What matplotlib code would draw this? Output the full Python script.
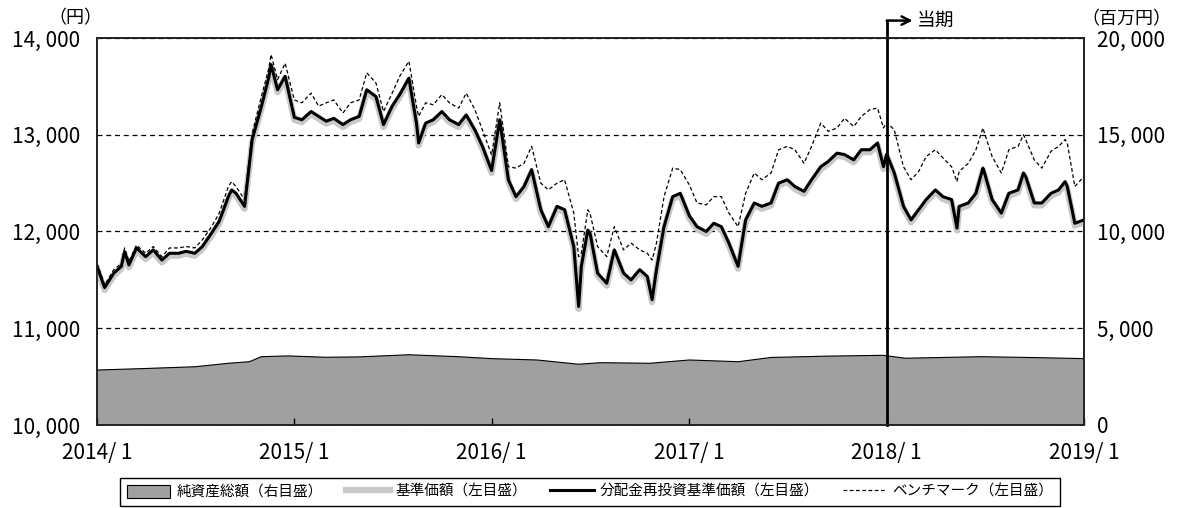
import matplotlib
matplotlib.use('Agg')
import matplotlib.pyplot as plt
import matplotlib.dates as mdates
import pandas as pd
from matplotlib.patches import Patch
from matplotlib.lines import Line2D

plt.rcParams['font.family'] = ['Noto Sans CJK JP', 'DejaVu Sans']

# --- data ---
dates = [
    '2014-01-01', '2014-01-15', '2014-02-01', '2014-02-15', '2014-02-21', '2014-03-01', '2014-03-15',
    '2014-04-01', '2014-04-15', '2014-05-01', '2014-05-15', '2014-06-01', '2014-06-15', '2014-07-01',
    '2014-07-15', '2014-08-01', '2014-08-15', '2014-09-01', '2014-09-07', '2014-09-15', '2014-10-01',
    '2014-10-15', '2014-11-01', '2014-11-15', '2014-11-19', '2014-12-01', '2014-12-15',
    '2015-01-01', '2015-01-15', '2015-02-01', '2015-02-15', '2015-03-01', '2015-03-15', '2015-04-01',
    '2015-04-15', '2015-05-01', '2015-05-15', '2015-06-01', '2015-06-15', '2015-07-01', '2015-07-15',
    '2015-08-01', '2015-08-15', '2015-08-19', '2015-09-01', '2015-09-15', '2015-10-01', '2015-10-15',
    '2015-11-01', '2015-11-15', '2015-12-01', '2015-12-15',
    '2016-01-01', '2016-01-16', '2016-02-01', '2016-02-15', '2016-03-01', '2016-03-15', '2016-04-01',
    '2016-04-15', '2016-05-01', '2016-05-15', '2016-06-01', '2016-06-10', '2016-06-15', '2016-06-27',
    '2016-07-01', '2016-07-15', '2016-08-01', '2016-08-15', '2016-09-01', '2016-09-15', '2016-10-01',
    '2016-10-15', '2016-10-24', '2016-11-01', '2016-11-15', '2016-12-01', '2016-12-15',
    '2017-01-01', '2017-01-15', '2017-02-01', '2017-02-15', '2017-03-01', '2017-03-15', '2017-04-01',
    '2017-04-15', '2017-05-01', '2017-05-15', '2017-06-01', '2017-06-15', '2017-07-01', '2017-07-15',
    '2017-08-01', '2017-08-15', '2017-09-01', '2017-09-15', '2017-10-01', '2017-10-15', '2017-11-01',
    '2017-11-15', '2017-12-01', '2017-12-15', '2017-12-26',
    '2018-01-01', '2018-01-15', '2018-02-01', '2018-02-15', '2018-03-01', '2018-03-15', '2018-04-01',
    '2018-04-15', '2018-05-01', '2018-05-11', '2018-05-15', '2018-06-01', '2018-06-15', '2018-06-28',
    '2018-07-01', '2018-07-15', '2018-08-01', '2018-08-15', '2018-09-01', '2018-09-11', '2018-09-15',
    '2018-10-01', '2018-10-15', '2018-11-01', '2018-11-15', '2018-11-27', '2018-12-01', '2018-12-15',
    '2019-01-01',
]

# 分配金再投資基準価額
reinvest = [
    11640, 11420, 11570, 11640, 11790, 11655, 11830, 11740, 11810, 11705, 11775, 11775, 11795, 11775,
    11845, 11985, 12105, 12360, 12430, 12395, 12260, 12950, 13290, 13600, 13725, 13465, 13605,
    13180, 13155, 13240, 13190, 13140, 13170, 13105, 13155, 13190, 13465, 13395, 13105, 13295, 13415,
    13585, 13120, 12915, 13120, 13155, 13240, 13155, 13105, 13205, 13050, 12880,
    12630, 13155, 12535, 12360, 12465, 12640, 12225, 12050, 12260, 12225, 11845, 11225, 11640, 12015,
    11985, 11570, 11465, 11810, 11570, 11500, 11605, 11535, 11295, 11605, 12050, 12360, 12395,
    12160, 12050, 12000, 12085, 12050, 11880, 11640, 12120, 12295, 12260, 12295, 12500, 12535, 12465,
    12415, 12535, 12670, 12725, 12810, 12795, 12740, 12845, 12845, 12915, 12670,
    12800, 12605, 12260, 12120, 12225, 12330, 12430, 12360, 12330, 12035, 12260, 12295, 12395, 12655,
    12605, 12330, 12190, 12395, 12430, 12605, 12570, 12295, 12295, 12395, 12430, 12515, 12465, 12085,
    12120,
]

# 基準価額
nav = [
    11615, 11395, 11545, 11615, 11765, 11630, 11805, 11715, 11785, 11680, 11750, 11750, 11770, 11750,
    11820, 11960, 12080, 12335, 12405, 12370, 12235, 12925, 13265, 13575, 13700, 13440, 13580,
    13155, 13130, 13215, 13165, 13115, 13145, 13080, 13130, 13165, 13440, 13370, 13080, 13270, 13390,
    13560, 13095, 12890, 13095, 13130, 13215, 13130, 13080, 13180, 13025, 12855,
    12605, 13130, 12510, 12335, 12440, 12615, 12200, 12025, 12235, 12200, 11820, 11200, 11615, 11990,
    11960, 11545, 11440, 11785, 11545, 11475, 11580, 11510, 11270, 11580, 12025, 12335, 12370,
    12135, 12025, 11975, 12060, 12025, 11855, 11615, 12095, 12270, 12235, 12270, 12475, 12510, 12440,
    12390, 12510, 12645, 12700, 12785, 12770, 12715, 12820, 12820, 12890, 12645,
    12775, 12580, 12235, 12095, 12200, 12305, 12405, 12335, 12305, 12010, 12235, 12270, 12370, 12630,
    12580, 12305, 12165, 12370, 12405, 12580, 12545, 12270, 12270, 12370, 12405, 12490, 12440, 12060,
    12095,
]

# ベンチマーク
bench = [
    11670, 11450, 11605, 11670, 11830, 11690, 11860, 11775, 11845, 11740, 11830, 11830, 11845, 11830,
    11915, 12050, 12190, 12465, 12515, 12465, 12330, 13015, 13395, 13690, 13830, 13570, 13740,
    13360, 13330, 13430, 13295, 13330, 13360, 13225, 13330, 13360, 13640, 13535, 13240, 13430, 13605,
    13760, 13295, 13190, 13330, 13310, 13415, 13330, 13275, 13430, 13260, 13050,
    12790, 13330, 12670, 12655, 12705, 12880, 12500, 12430, 12500, 12535, 12190, 11740, 11775, 12225,
    12190, 11845, 11740, 12050, 11810, 11880, 11810, 11775, 11705, 11880, 12360, 12655, 12640,
    12480, 12295, 12275, 12360, 12360, 12190, 12050, 12395, 12605, 12535, 12605, 12845, 12880, 12845,
    12705, 12880, 13120, 13035, 13070, 13170, 13085, 13190, 13260, 13275, 13070,
    13130, 13050, 12670, 12535, 12620, 12775, 12845, 12760, 12670, 12515, 12620, 12705, 12845, 13070,
    13015, 12775, 12605, 12845, 12880, 13000, 12950, 12740, 12655, 12830, 12880, 12950, 12915, 12465,
    12570,
]

# 純資産総額 (百万円)
asset_dates = [
    '2014-01-01', '2014-04-01', '2014-07-01', '2014-09-01', '2014-10-10', '2014-11-01', '2014-12-20',
    '2015-03-01', '2015-05-01', '2015-08-01', '2015-11-01', '2016-01-01', '2016-03-25', '2016-06-10',
    '2016-07-20', '2016-10-20', '2017-01-01', '2017-04-01', '2017-06-01', '2017-09-15', '2017-12-25',
    '2018-02-05', '2018-06-25', '2018-10-10', '2019-01-01',
]
assets = [
    2840, 2920, 3010, 3190, 3270, 3530, 3570,
    3500, 3520, 3630, 3530, 3430, 3360, 3140,
    3220, 3190, 3360, 3270, 3490, 3560, 3600,
    3450, 3530, 3480, 3430,
]

year_ticks = ['2014-01-01', '2015-01-01', '2016-01-01', '2017-01-01', '2018-01-01', '2019-01-01']
year_labels = ['2014/ 1', '2015/ 1', '2016/ 1', '2017/ 1', '2018/ 1', '2019/ 1']
left_ticks = [10000, 11000, 12000, 13000, 14000]
left_labels = ['10, 000', '11, 000', '12, 000', '13, 000', '14, 000']
right_ticks = [0, 5000, 10000, 15000, 20000]
right_labels = ['0', '5, 000', '10, 000', '15, 000', '20, 000']
period_start = '2018-01-01'

dates = pd.to_datetime(dates)
asset_dates = pd.to_datetime(asset_dates)
year_ticks = pd.to_datetime(year_ticks)
period_x = mdates.date2num(pd.Timestamp(period_start))

fig = plt.figure(figsize=(11.82, 5.08), dpi=100)
ax = fig.add_axes([0.0821, 0.1634, 0.835, 0.7618])
ax_r = ax.twinx()
ax.set_zorder(ax_r.get_zorder() + 1)
ax.patch.set_visible(False)

# net assets, right scale
ax_r.fill_between(asset_dates, assets, 0, facecolor='#a0a0a0', edgecolor='none')
ax_r.plot(asset_dates, assets, color='black', lw=0.8)
ax_r.set_ylim(0, 20000)
ax_r.set_yticks(right_ticks)
ax_r.set_yticklabels(right_labels)
ax_r.tick_params(axis='y', length=0, pad=9, labelsize=15)

# prices, left scale
ax.plot(dates, nav, color='#c8c8c8', lw=4.5, solid_joinstyle='round')
ax.plot(dates, reinvest, color='black', lw=2.2)
ax.plot(dates, bench, color='black', lw=0.9, ls=(0, (3, 2)))

ax.set_ylim(10000, 14000)
ax.set_xlim(year_ticks[0], year_ticks[-1])
ax.set_yticks(left_ticks)
ax.set_yticklabels(left_labels)
ax.grid(axis='y', color='black', lw=0.9, ls=(0, (4, 3)))
ax.tick_params(axis='y', length=0, pad=12, labelsize=15)
ax.set_xticks(year_ticks)
ax.set_xticklabels(year_labels)
ax.tick_params(axis='x', direction='in', length=5, width=1, pad=12, labelsize=15)
for a in (ax, ax_r):
    for s in a.spines.values():
        s.set_linewidth(1.2)
        s.set_color('#222222')

# current period marker
trans = ax.get_xaxis_transform()
ax.plot([period_x, period_x], [0, 1.045], color='black', lw=2, transform=trans, clip_on=False)
ax.annotate('', xy=(period_x + 48, 1.045), xytext=(period_x, 1.045),
            xycoords=trans, textcoords=trans, annotation_clip=False,
            arrowprops=dict(arrowstyle='->', lw=1.8, color='black', shrinkA=0, shrinkB=0,
                            mutation_scale=15))
ax.text(period_x + 56, 1.045, '当期', transform=trans, va='center', ha='left', fontsize=13.5)

fig.text(75 / 1182, 1 - 18 / 508, '（円）', ha='center', va='center', fontsize=13)
fig.text(1126 / 1182, 1 - 19 / 508, '（百万円）', ha='center', va='center', fontsize=13)

handles = [
    Patch(facecolor='#a0a0a0', edgecolor='black', lw=0.8),
    Line2D([], [], color='#c8c8c8', lw=4.5),
    Line2D([], [], color='black', lw=2.2),
    Line2D([], [], color='black', lw=0.9, ls=(0, (3, 2))),
]
labels = ['純資産総額（右目盛）', '基準価額（左目盛）', '分配金再投資基準価額（左目盛）', 'ベンチマーク（左目盛）']
fig.legend(handles, labels, loc='upper center', bbox_to_anchor=(0.499, 1 - 478 / 508), ncol=4,
           fancybox=False, edgecolor='black', framealpha=1, fontsize=10.5, handlelength=3,
           handleheight=1.0, columnspacing=1.6, handletextpad=0.4, borderpad=0.45,
           borderaxespad=0)

fig.savefig('out.png', dpi=100)
